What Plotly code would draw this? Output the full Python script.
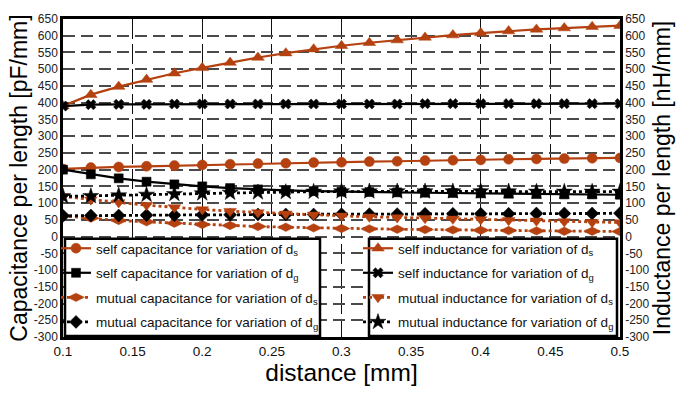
import plotly.graph_objects as go

distance = [0.10, 0.12, 0.14, 0.16, 0.18, 0.20, 0.22, 0.24, 0.26, 0.28, 0.30,
            0.32, 0.34, 0.36, 0.38, 0.40, 0.42, 0.44, 0.46, 0.48, 0.50]

self_cap_ds = [202, 206, 208, 210, 212, 214, 216, 218, 219, 221, 222,
               224, 225, 227, 228, 229, 231, 232, 233, 234, 235]
self_cap_dg = [200, 186, 174, 164, 156, 150, 145, 141, 138, 136, 134,
               133, 132, 131, 130, 129, 128, 127, 126, 126, 125]
mutual_cap_ds = [62, 55, 48, 44, 40, 36, 33, 30, 28, 26, 24,
                 23, 22, 21, 20, 19, 18, 17, 16, 16, 15]
mutual_cap_dg = [62, 63, 63, 64, 64, 65, 65, 66, 66, 66, 67,
                 67, 67, 68, 68, 68, 68, 69, 69, 69, 70]

self_ind_ds = [390, 424, 448, 469, 488, 504, 520, 535, 548, 560, 570,
               579, 587, 595, 602, 608, 614, 619, 623, 627, 630]
self_ind_dg = [390, 394, 395, 395, 396, 396, 396, 396, 396, 396, 396,
               396, 396, 397, 397, 397, 397, 397, 397, 397, 397]
mutual_ind_ds = [120, 110, 102, 94, 87, 81, 76, 72, 68, 65, 62,
                 59, 57, 55, 53, 51, 49, 47, 45, 43, 42]
mutual_ind_dg = [120, 121, 123, 125, 127, 129, 131, 132, 133, 134, 135,
                 135, 135, 135, 135, 135, 135, 134, 134, 134, 134]

x_ticks = [0.1, 0.15, 0.2, 0.25, 0.3, 0.35, 0.4, 0.45, 0.5]
x_tick_labels = ["0.1", "0.15", "0.2", "0.25", "0.3", "0.35", "0.4", "0.45", "0.5"]
y_ticks = list(range(-300, 651, 50))
y_tick_labels = [str(v) for v in y_ticks]

ORANGE = "#B4410F"
BLACK = "#000000"

fig = go.Figure()

def add(y, name, color, symbol, size, dash, axis, legend, group):
    fig.add_trace(go.Scatter(
        x=distance, y=y, name=name, mode="lines+markers",
        line=dict(color=color, width=2.2 if dash == "solid" else 2.8, dash=dash),
        marker=dict(color=color, symbol=symbol, size=size,
                    line=dict(color=color, width=0.5)),
        yaxis=axis, legend=legend, legendgroup=group,
    ))

add(self_cap_ds, "self capacitance for variation of d<sub>s</sub>", ORANGE, "circle", 10, "solid", "y", "legend", "a1")
add(self_cap_dg, "self capacitance for variation of d<sub>g</sub>", BLACK, "square", 9, "solid", "y", "legend", "a2")
add(mutual_cap_ds, "mutual capacitance for variation of d<sub>s</sub>", ORANGE, "diamond-wide", 12, "dot", "y", "legend", "a3")
add(mutual_cap_dg, "mutual capacitance for variation of d<sub>g</sub>", BLACK, "diamond", 10, "dot", "y", "legend", "a4")

add(self_ind_ds, "self inductance for variation of d<sub>s</sub>", ORANGE, "triangle-up", 11, "solid", "y2", "legend2", "b1")
add(self_ind_dg, "self inductance for variation of d<sub>g</sub>", BLACK, "x", 9, "solid", "y2", "legend2", "b2")
add(mutual_ind_ds, "mutual inductance for variation of d<sub>s</sub>", ORANGE, "triangle-down", 11, "dot", "y2", "legend2", "b3")
add(mutual_ind_dg, "mutual inductance for variation of d<sub>g</sub>", BLACK, "star", 12, "dot", "y2", "legend2", "b4")

FONT = "Liberation Sans, Arial, sans-serif"
L, R, T, B = 63, 66, 13, 56
W, H = 686, 393
pw, ph = W - L - R, H - T - B

def px_x(p):
    return (p - L) / pw

def px_y(p):
    return (H - B - p) / ph

legend_common = dict(
    bgcolor="rgba(0,0,0,0)", borderwidth=0,
    font=dict(family=FONT, size=13.5, color="#111"),
    itemwidth=30, tracegroupgap=4, traceorder="grouped",
    yanchor="top", xanchor="left",
)

fig.update_layout(
    width=W, height=H,
    margin=dict(l=L, r=R, t=T, b=B),
    paper_bgcolor="white", plot_bgcolor="white",
    font=dict(family=FONT, color="black"),
    showlegend=True,
    legend=dict(x=px_x(56), y=px_y(231), **legend_common),
    legend2=dict(x=px_x(358), y=px_y(231), **legend_common),
    xaxis=dict(
        range=[0.1, 0.5], tickvals=x_ticks, ticktext=x_tick_labels,
        tickfont=dict(size=13.5, family=FONT, color="#111"),
        title=dict(text="distance [mm]", font=dict(size=24.5, family=FONT, color="black"), standoff=0),
        showgrid=True, gridcolor="#111", gridwidth=1.2, griddash="20px,5px",
        showline=True, linecolor="black", linewidth=2.5, mirror=True,
        ticks="", ticklen=0, zeroline=False,
    ),
    yaxis=dict(
        range=[-300, 650], tickvals=y_ticks, ticktext=y_tick_labels,
        tickfont=dict(size=12, family=FONT, color="#222"),
        title=dict(text="Capacitance per length [pF/mm]", font=dict(size=23, family=FONT, color="black"), standoff=0),
        showgrid=True, gridcolor="#4a4a4a", gridwidth=1.5, griddash="12px,6px",
        showline=True, linecolor="black", linewidth=2.5, mirror=True,
        ticks="", ticklen=0, zeroline=False,
    ),
    yaxis2=dict(
        range=[-300, 650], tickvals=y_ticks, ticktext=y_tick_labels, overlaying="y", side="right",
        tickfont=dict(size=12, family=FONT, color="#222"),
        title=dict(text="Inductance per length [nH/mm]", font=dict(size=23, family=FONT, color="black"), standoff=5),
        showgrid=False, showline=True, linecolor="black", linewidth=2.5,
        ticks="", ticklen=0, zeroline=False,
    ),
    shapes=[
        dict(type="rect", xref="paper", yref="paper", layer="above",
             x0=px_x(65), x1=px_x(320), y0=px_y(336), y1=px_y(237),
             fillcolor="white", line=dict(color="black", width=2.5)),
        dict(type="rect", xref="paper", yref="paper", layer="above",
             x0=px_x(369), x1=px_x(617), y0=px_y(336), y1=px_y(237),
             fillcolor="white", line=dict(color="black", width=2.5)),
    ],
)

fig.write_html("out.html")
